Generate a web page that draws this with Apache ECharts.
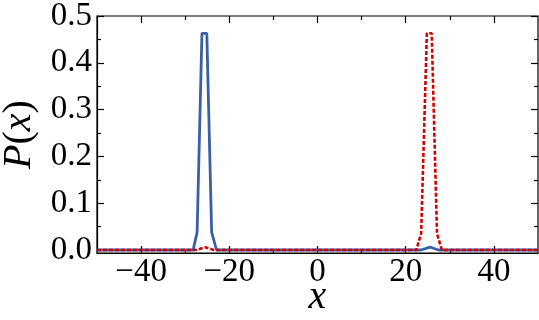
<!DOCTYPE html>
<html>
<head>
<meta charset="utf-8">
<script src="https://cdn.jsdelivr.net/npm/echarts@6/dist/echarts.min.js"></script>
<style>
  html, body { margin: 0; padding: 0; background: #fff; }
  #main { width: 539px; height: 320px; }
</style>
</head>
<body>
<div id="main"></div>
<script>
// 数据：x 与 P(x)
var blueX = [-50, -28.2, -27.3, -26.2, -25.1, -24.0, -22.9, 23.5, 25.5, 27.5, 50];
var blueY = [0, 0, 0.038, 0.463, 0.463, 0.038, 0, 0, 0.006, 0, 0];
var redX = [-50, -27.5, -25.5, -23.5, 22.4, 23.5, 24.8, 25.9, 27.1, 28.2, 50];
var redY = [0, 0, 0.006, 0, 0, 0.035, 0.463, 0.463, 0.035, 0, 0];
var xMajor = [-40, -20, 0, 20, 40];
var xMinor = [-30, -10, 10, 30];
var yMajor = [0, 0.1, 0.2, 0.3, 0.4, 0.5];
var yMinor = [0.05, 0.15, 0.25, 0.35, 0.45];

function pairs(xs, ys) {
    var out = [];
    for (var i = 0; i < xs.length; i++) out.push([xs[i], ys[i]]);
    return out;
}

var font = 'Liberation Serif';
var lineStyle = { color: '#000', width: 1.2 };

function xAx(pos, ticks, len, showLabel, showName) {
    return {
        type: 'value', position: pos, min: -50, max: 50,
        axisLine: { show: showLabel, onZero: false, lineStyle: lineStyle },
        axisTick: { show: true, inside: true, length: len, customValues: ticks, lineStyle: lineStyle },
        axisLabel: {
            show: showLabel, customValues: ticks, margin: 3,
            fontFamily: font, fontSize: 33, color: '#000',
            formatter: function (v) { return v < 0 ? '\u2212' + Math.abs(v) : String(v); }
        },
        splitLine: { show: false },
        name: showName ? 'x' : '', nameLocation: 'middle', nameGap: 24, nameMoveOverlap: false,
        nameTextStyle: { fontFamily: font, fontSize: 40, fontStyle: 'italic', color: '#000' }
    };
}
function yAx(pos, ticks, len, showLabel, showName) {
    return {
        type: 'value', position: pos, min: -0.0064, max: 0.5,
        axisLine: { show: showLabel, onZero: false, lineStyle: lineStyle },
        axisTick: { show: true, inside: true, length: len, customValues: ticks, lineStyle: lineStyle },
        axisLabel: {
            show: showLabel, customValues: ticks, margin: 5,
            fontFamily: font, fontSize: 33, color: '#000',
            formatter: function (v) { return v.toFixed(1); }
        },
        splitLine: { show: false },
        name: showName ? '{i|P}{r|(}{i|x}{r|)}' : '', nameLocation: 'middle', nameGap: 57,
        nameTextStyle: {
            fontFamily: font, fontSize: 40, color: '#000',
            rich: {
                i: { fontFamily: font, fontSize: 40, fontStyle: 'italic', color: '#000' },
                r: { fontFamily: font, fontSize: 40, color: '#000' }
            }
        }
    };
}

var myChart = echarts.init(document.getElementById('main'));
myChart.setOption({
    animation: false,
    grid: {
        left: 97, right: 1, top: 16, bottom: 67,
        outerBoundsMode: 'none', containLabel: false,
        show: true, borderColor: '#000', borderWidth: 1.2
    },
    xAxis: [
        xAx('bottom', xMajor, 7, true, true),
        xAx('bottom', xMinor, 4, false, false),
        xAx('top', xMajor, 7, false, false),
        xAx('top', xMinor, 4, false, false)
    ],
    yAxis: [
        yAx('left', yMajor, 7, true, true),
        yAx('left', yMinor, 4, false, false),
        yAx('right', yMajor, 7, false, false),
        yAx('right', yMinor, 4, false, false)
    ],
    series: [
        {
            type: 'line', xAxisIndex: 0, yAxisIndex: 0, showSymbol: false,
            data: pairs(blueX, blueY),
            lineStyle: { color: '#3a5ea8', width: 2.8 }
        },
        {
            type: 'line', xAxisIndex: 0, yAxisIndex: 0, showSymbol: false,
            data: pairs(redX, redY),
            lineStyle: { color: '#d40000', width: 2.6, type: [4, 2] }
        }
    ]
});
</script>
</body>
</html>
